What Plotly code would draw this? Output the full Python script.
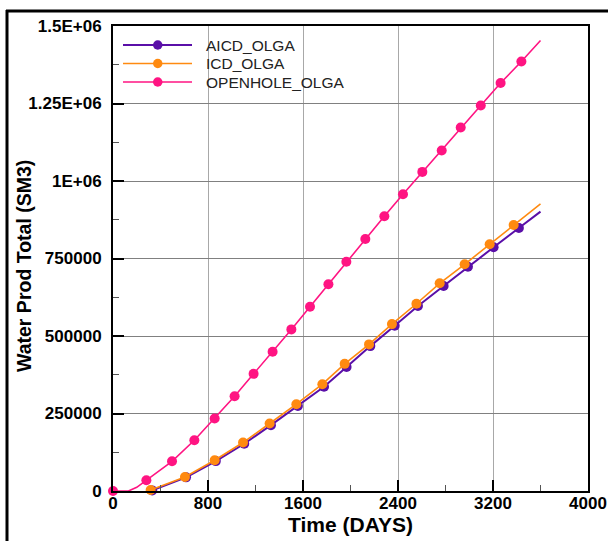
import plotly.graph_objects as go

# ---------------- data ----------------
series_names = ["AICD_OLGA", "ICD_OLGA", "OPENHOLE_OLGA"]

# symbol points (days, SM3)
aicd_days = [330, 615, 866, 1105, 1330, 1557, 1777, 1967, 2167, 2372, 2568, 2784, 2989, 3205, 3418]
aicd_vals = [2000, 44000, 96500, 152500, 212500, 274000, 336500, 400000, 467400, 533000, 596600,
             661200, 723500, 786200, 848500]

icd_days = [317, 606, 856, 1095, 1319, 1544, 1763, 1951, 2156, 2349, 2555, 2751, 2961, 3172, 3374]
icd_vals = [3000, 45200, 99200, 156300, 217700, 280000, 344600, 410200, 472900, 538400, 604000,
            669900, 731300, 795900, 858200]

open_days = [0, 281, 497, 685, 856, 1024, 1184, 1344, 1502, 1659, 1814, 1965, 2125, 2285, 2442,
             2605, 2768, 2928, 3097, 3264, 3439]
open_vals = [0, 34600, 95900, 163700, 233900, 305900, 377900, 449000, 521300, 594300, 666700,
             739700, 813000, 886300, 957400, 1029400, 1098200, 1172500, 1243600, 1315900, 1385700]

# onset of the open-hole curve (line only, no symbols)
open_onset_days = [130, 200]
open_onset_vals = [0, 12000]

# end of every curve (line only)
final_day = 3600
aicd_final = 901200
icd_final = 926000
open_final = 1453500

x_ticks = [0, 800, 1600, 2400, 3200, 4000]
x_ticktext = ["0", "800", "1600", "2400", "3200", "4000"]
y_ticks = [0, 250000, 500000, 750000, 1000000, 1250000, 1500000]
y_ticktext = ["0", "250000", "500000", "750000", "1E+06", "1.25E+06", "1.5E+06"]

x_title = "Time (DAYS)"
y_title = "Water Prod Total (SM3)"

# ---------------- styles ----------------
colors = ["#5A0FA8", "#FF8A10", "#FF1482"]
widths = [2.0, 1.6, 1.6]
FONT = "Liberation Sans, Arial, sans-serif"

L, R, T, B = 113, 20, 26, 50
W, H = 608, 541
PW, PH = W - L - R, H - T - B


def px(x):  # screen pixel -> paper
    return (x - L) / PW


def py(y):
    return 1 - (y - T) / PH


fig = go.Figure()

line_sets = [
    (aicd_days + [final_day], aicd_vals + [aicd_final]),
    (icd_days + [final_day], icd_vals + [icd_final]),
    ([open_days[0]] + open_onset_days + open_days[1:] + [final_day],
     [open_vals[0]] + open_onset_vals + open_vals[1:] + [open_final]),
]
marker_sets = [(aicd_days, aicd_vals), (icd_days, icd_vals), (open_days, open_vals)]

for name, c, w, (lx, ly), (mx, my) in zip(series_names, colors, widths, line_sets, marker_sets):
    fig.add_trace(go.Scatter(x=lx, y=ly, mode="lines", line=dict(color=c, width=w),
                             showlegend=False, cliponaxis=False, hoverinfo="skip"))
    fig.add_trace(go.Scatter(x=mx, y=my, mode="markers", name=name,
                             marker=dict(color=c, size=10, symbol="circle"),
                             showlegend=False, cliponaxis=False))

axis_common = dict(
    showline=True, linecolor="black", linewidth=2, mirror=True,
    ticks="inside", ticklen=11, tickwidth=2, tickcolor="black",
    tickfont=dict(family=FONT, size=17, color="black", weight="bold"),
    zeroline=False, showgrid=True, automargin=False,
)

fig.update_xaxes(
    **axis_common, range=[0, 4000], tickvals=x_ticks, ticktext=x_ticktext,
    gridcolor="#A8A8A8", gridwidth=1,
    minor=dict(ticks="inside", ticklen=6, tickwidth=1, tickcolor="#555555", dtick=400, showgrid=False),
    ticklabelstandoff=-4,
    title=dict(text=x_title, font=dict(family=FONT, size=21, color="black", weight="bold"), standoff=4),
)
fig.update_yaxes(
    **axis_common, range=[0, 1500000], tickvals=y_ticks, ticktext=y_ticktext,
    gridcolor="#808080", gridwidth=1,
    minor=dict(ticks="inside", ticklen=6, tickwidth=1, tickcolor="#555555", dtick=125000, showgrid=False),
    ticklabelstandoff=6,
)

shapes = [
    # outer page frame (left and top edges visible)
    dict(type="line", xref="paper", yref="paper", x0=px(7), x1=px(7), y0=py(545), y1=py(10),
         line=dict(color="black", width=3), layer="above"),
    dict(type="line", xref="paper", yref="paper", x0=px(6), x1=px(608), y0=py(11), y1=py(11),
         line=dict(color="black", width=3), layer="above"),
]
annotations = [
    dict(text=y_title, xref="paper", yref="paper", x=px(24), y=py(266), textangle=-90,
         xanchor="center", yanchor="middle", showarrow=False,
         font=dict(family=FONT, size=19.5, color="black", weight="bold")),
]
legend_rows = [45, 63.5, 82]
for name, c, w, yy in zip(series_names, colors, widths, legend_rows):
    shapes.append(dict(type="line", xref="paper", yref="paper", x0=px(123), x1=px(192),
                       y0=py(yy), y1=py(yy), line=dict(color=c, width=w), layer="above"))
    shapes.append(dict(type="circle", xref="paper", yref="paper", x0=px(153), x1=px(162.5),
                       y0=py(yy + 4.75), y1=py(yy - 4.75), line=dict(color=c, width=0),
                       fillcolor=c, layer="above"))
    annotations.append(dict(text=name, xref="paper", yref="paper", x=px(204), y=py(yy),
                            xanchor="left", yanchor="middle", showarrow=False,
                            font=dict(family=FONT, size=15.5, color="#222222")))

fig.update_layout(
    width=W, height=H,
    margin=dict(l=L, r=R, t=T, b=B),
    paper_bgcolor="white", plot_bgcolor="white",
    shapes=shapes, annotations=annotations,
    showlegend=False,
)

fig.write_html("out.html", config={"displayModeBar": False},
               post_script="document.body.style.margin='0';document.body.style.overflow='hidden';")
